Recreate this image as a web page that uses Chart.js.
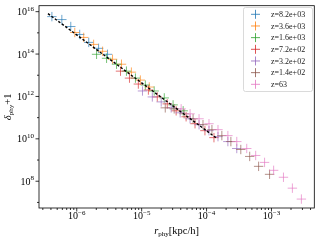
<!DOCTYPE html>
<html>
<head>
<meta charset="utf-8">
<style>
  html, body { margin: 0; padding: 0; background: #fff; }
</style>
<script src="https://cdn.jsdelivr.net/npm/chart.js@4.4.1/dist/chart.umd.min.js"></script>
</head>
<body>
<canvas id="chart" width="320" height="240"></canvas>
<script>
// series labels and colours (matplotlib tab10)
const seriesLabels = ['z=8.2e+03', 'z=3.6e+03', 'z=1.6e+03', 'z=7.2e+02', 'z=3.2e+02', 'z=1.4e+02', 'z=63'];
const seriesColors = ['#1f77b4', '#ff7f0e', '#2ca02c', '#d62728', '#9467bd', '#8c564b', '#e377c2'];

// r_phy [kpc/h] and delta_phy + 1
const r0 = [4.14e-7, 5.89e-7, 8.09e-7, 1.11e-6, 1.53e-6, 2.17e-6, 2.98e-6];
const d0 = [5.83e15, 4.23e15, 1.99e15, 8.40e14, 3.55e14, 1.86e14, 9.73e13];

const r1 = [9.32e-7, 1.28e-6, 1.82e-6, 2.50e-6, 3.56e-6, 4.89e-6, 6.95e-6, 9.55e-6, 1.31e-5];
const d1 = [1.04e15, 6.08e14, 2.86e14, 1.35e14, 5.68e13, 3.31e13, 1.40e13, 5.91e12, 2.78e12];

const r2 = [2.02e-6, 2.88e-6, 4.10e-6, 5.83e-6, 8.02e-6, 1.14e-5, 1.56e-5, 2.23e-5, 3.05e-5, 4.36e-5];
const d2 = [9.73e13, 6.32e13, 3.31e13, 1.56e13, 7.33e12, 3.45e12, 1.81e12, 8.51e11, 4.00e11, 2.10e11];

const r3 = [4.72e-6, 6.49e-6, 8.89e-6, 1.27e-5, 1.74e-5, 2.48e-5, 3.40e-5, 4.84e-5, 6.64e-5, 9.44e-5, 1.30e-4];
const d3 = [1.56e13, 7.33e12, 3.85e12, 2.01e12, 9.48e11, 4.46e11, 2.10e11, 1.10e11, 5.17e10, 2.43e10, 1.14e10];

const r4 = [1.03e-5, 1.46e-5, 2.00e-5, 2.85e-5, 3.92e-5, 5.57e-5, 7.66e-5, 1.09e-4, 1.50e-4, 2.13e-4, 2.92e-4];
const d4 = [1.81e12, 9.48e11, 5.53e11, 2.90e11, 1.69e11, 8.85e10, 4.64e10, 2.43e10, 1.27e10, 7.43e9, 3.50e9];

const r5 = [2.31e-5, 3.17e-5, 4.51e-5, 6.20e-5, 8.81e-5, 1.21e-4, 1.72e-4, 2.37e-4, 3.37e-4, 4.62e-4, 6.34e-4, 9.35e-4];
const d5 = [2.90e11, 2.60e11, 1.52e11, 8.85e10, 4.64e10, 2.71e10, 1.42e10, 7.43e9, 3.14e9, 1.48e9, 5.04e8, 2.12e8];

const r6 = [4.06e-5, 5.57e-5, 7.66e-5, 1.09e-4, 1.50e-4, 2.13e-4, 2.92e-4, 4.16e-4, 5.71e-4, 7.83e-4, 1.08e-3, 1.53e-3, 2.10e-3, 2.89e-3];
const d6 = [2.60e11, 1.52e11, 8.85e10, 5.17e10, 2.71e10, 1.42e10, 7.43e9, 3.50e9, 1.64e9, 7.74e8, 3.27e8, 1.54e8, 4.71e7, 1.44e7];

// dashed reference line (end points)
const fitR = [3.6e-7, 1.39e-4];
const fitD = [8.05e15, 1.14e10];

// axis ranges and ticks
const xMin = 2.62e-7, xMax = 4.57e-3;
const yMin = 5.46e6, yMax = 1.91e16;
const xTickExp = [-6, -5, -4, -3];
const yTickExp = [8, 10, 12, 14, 16];

const allR = [r0, r1, r2, r3, r4, r5, r6];
const allD = [d0, d1, d2, d3, d4, d5, d6];

function toPoints(xs, ys) {
    return xs.map((x, i) => ({ x: x, y: ys[i] }));
}

function withAlpha(hex, a) {
    const n = parseInt(hex.slice(1), 16);
    return 'rgba(' + (n >> 16) + ',' + ((n >> 8) & 255) + ',' + (n & 255) + ',' + a + ')';
}

const datasets = [{
    type: 'line',
    label: 'fit',
    data: toPoints(fitR, fitD),
    borderColor: '#000',
    borderWidth: 1.4,
    borderDash: [2.5, 1.8],
    pointRadius: 0,
    fill: false,
    order: 0
}];

seriesLabels.forEach((label, i) => {
    datasets.push({
        type: 'scatter',
        label: label,
        data: toPoints(allR[i], allD[i]),
        pointStyle: 'cross',
        pointRadius: 4.7,
        pointBorderWidth: 1,
        borderColor: withAlpha(seriesColors[i], 0.65),
        backgroundColor: withAlpha(seriesColors[i], 0.65),
        order: 10 - i
    });
});

// draws "10" with a raised exponent
function drawPower(ctx, exp, x, y, align) {
    const base = '10';
    const sup = (exp < 0 ? '\u2212' : '') + Math.abs(exp);
    ctx.font = '10px "Liberation Serif"';
    const wb = ctx.measureText(base).width;
    ctx.font = '7px "Liberation Serif"';
    const ws = ctx.measureText(sup).width;
    const w = wb + ws;
    let left = x;
    if (align === 'right') left = x - w;
    if (align === 'center') left = x - w / 2;
    ctx.textAlign = 'left';
    ctx.textBaseline = 'alphabetic';
    ctx.font = '10px "Liberation Serif"';
    ctx.fillText(base, left, y);
    ctx.font = '7px "Liberation Serif"';
    ctx.fillText(sup, left + wb, y - 4.5);
}

// draws a label made of parts, centred at x
function drawParts(ctx, parts, x, y) {
    let total = 0;
    parts.forEach(p => { ctx.font = p.font; p.w = ctx.measureText(p.t).width; total += p.w; });
    let cx = x - total / 2;
    ctx.textAlign = 'left';
    ctx.textBaseline = 'alphabetic';
    parts.forEach(p => {
        ctx.font = p.font;
        ctx.fillText(p.t, cx, y + (p.dy || 0));
        cx += p.w;
    });
}

const axesPlugin = {
    id: 'mplAxes',
    afterDraw(chart) {
        const ctx = chart.ctx;
        const area = chart.chartArea;
        const xs = chart.scales.x;
        const ys = chart.scales.y;
        ctx.save();
        ctx.strokeStyle = '#000';
        ctx.fillStyle = '#000';

        // frame
        ctx.lineWidth = 0.8;
        ctx.strokeRect(area.left, area.top, area.right - area.left, area.bottom - area.top);

        // x ticks
        for (let e = -7; e <= -3; e++) {
            for (let k = 1; k <= 9; k++) {
                const v = k * Math.pow(10, e);
                if (v < xMin || v > xMax) continue;
                const px = xs.getPixelForValue(v);
                const len = k === 1 ? 3.5 : 2;
                ctx.beginPath();
                ctx.moveTo(px, area.bottom);
                ctx.lineTo(px, area.bottom + len);
                ctx.stroke();
            }
        }
        xTickExp.forEach(e => {
            drawPower(ctx, e, xs.getPixelForValue(Math.pow(10, e)), 219, 'center');
        });

        // y ticks
        for (let e = 7; e <= 16; e++) {
            const v = Math.pow(10, e);
            if (v < yMin || v > yMax) continue;
            const py = ys.getPixelForValue(v);
            const len = yTickExp.includes(e) ? 3.5 : 2;
            ctx.beginPath();
            ctx.moveTo(area.left, py);
            ctx.lineTo(area.left - len, py);
            ctx.stroke();
        }
        yTickExp.forEach(e => {
            drawPower(ctx, e, area.left - 5, ys.getPixelForValue(Math.pow(10, e)) + 3.5, 'right');
        });

        // axis titles
        drawParts(ctx, [
            { t: 'r', font: 'italic 10.5px "Liberation Serif"' },
            { t: 'phy', font: '7px "Liberation Serif"', dy: 2 },
            { t: '[kpc/h]', font: '10.5px "Liberation Serif"' }
        ], (area.left + area.right) / 2, 234);

        ctx.save();
        ctx.translate(11, (area.top + area.bottom) / 2);
        ctx.rotate(-Math.PI / 2);
        drawParts(ctx, [
            { t: '\u03b4', font: 'italic 10.5px "Liberation Serif"' },
            { t: 'phy', font: '7px "Liberation Serif"', dy: 2 },
            { t: '+1', font: '10.5px "Liberation Serif"' }
        ], 0, 0);
        ctx.restore();

        // legend
        const lx = 243, ly = 7, lw = 69, lh = 84;
        ctx.beginPath();
        ctx.roundRect(lx + 0.5, ly + 0.5, lw, lh, 2);
        ctx.fillStyle = 'rgba(255,255,255,0.8)';
        ctx.fill();
        ctx.strokeStyle = '#d0d0d0';
        ctx.lineWidth = 0.8;
        ctx.stroke();
        seriesLabels.forEach((label, i) => {
            const cy = 14.3 + i * 11.67;
            ctx.strokeStyle = withAlpha(seriesColors[i], 0.8);
            ctx.lineWidth = 1;
            ctx.beginPath();
            ctx.moveTo(251, cy);
            ctx.lineTo(260, cy);
            ctx.moveTo(255.5, cy - 4.5);
            ctx.lineTo(255.5, cy + 4.5);
            ctx.stroke();
            ctx.fillStyle = '#222';
            ctx.font = '8px "Liberation Serif"';
            ctx.textAlign = 'left';
            ctx.textBaseline = 'middle';
            ctx.fillText(label, 271, cy + 0.5);
        });
        ctx.restore();
    }
};

new Chart(document.getElementById('chart').getContext('2d'), {
    data: { datasets: datasets },
    options: {
        responsive: false,
        animation: false,
        layout: { padding: { left: 39, right: 4, top: 4, bottom: 32 } },
        plugins: { legend: { display: false }, tooltip: { enabled: false } },
        scales: {
            x: { type: 'logarithmic', min: xMin, max: xMax, display: false },
            y: { type: 'logarithmic', min: yMin, max: yMax, display: false }
        }
    },
    plugins: [axesPlugin]
});
</script>
</body>
</html>
